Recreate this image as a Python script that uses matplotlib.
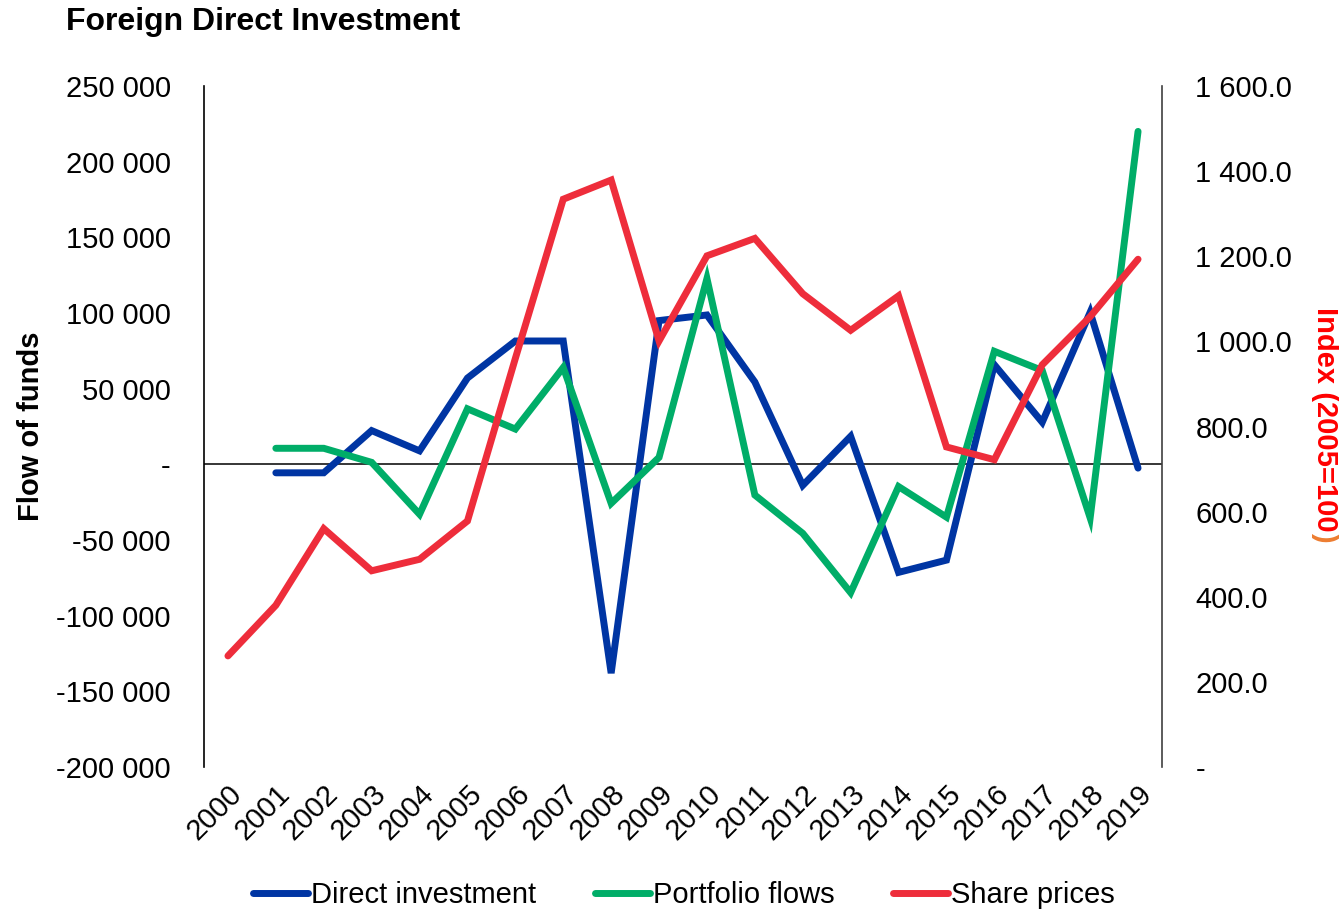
import numpy as np
import matplotlib
matplotlib.use("Agg")
import matplotlib.pyplot as plt
from matplotlib.ticker import FuncFormatter

plt.rcParams['font.family'] = ['Liberation Sans', 'DejaVu Sans']

# --- data ---
years = [str(y) for y in range(2000, 2020)]
direct_investment = [np.nan, -5600, -5600, 22300, 8900, 57000, 81500, 81500, -138000, 95000,
                     98700, 54400, -13900, 18500, -71400, -63300, 65800, 27800, 100500, -2500]
portfolio_flows = [np.nan, 10600, 10600, 1300, -33000, 36700, 23300, 64000, -25800, 4600,
                   122800, -20300, -45600, -84800, -14700, -34900, 74700, 62000, -35400, 220000]
share_prices = [261, 380, 560, 461, 488, 578, 960, 1334, 1379, 1001,
                1201, 1242, 1112, 1026, 1107, 752, 722, 945, 1058, 1193]

BLUE = '#0035a3'
GREEN = '#00ad68'
RED = '#ee2d3b'
FS = 21

W, H = 1339, 911
fig = plt.figure(figsize=(W / 100, H / 100), dpi=100)
ax = fig.add_axes([204 / W, 1 - 767 / H, (1162 - 204) / W, (767 - 86) / H])
ax2 = ax.twinx()

x = np.arange(len(years))
l1, = ax.plot(x, direct_investment, color=BLUE, lw=5, solid_capstyle='round',
              solid_joinstyle='miter', label='Direct investment')
l2, = ax.plot(x, portfolio_flows, color=GREEN, lw=5, solid_capstyle='round',
              solid_joinstyle='miter', label='Portfolio flows')
l3, = ax2.plot(x, share_prices, color=RED, lw=5, solid_capstyle='round',
               solid_joinstyle='miter', label='Share prices')
ax.axhline(0, color='black', lw=1.1, zorder=1)

ax.set_xlim(-0.5, len(years) - 0.5)
ax.set_ylim(-200000, 250000)
ax.set_yticks(np.arange(-200000, 250001, 50000))
ax2.set_ylim(0, 1600)
ax2.set_yticks(np.arange(0, 1601, 200))


def left_fmt(v, pos):
    if abs(v) < 1e-9:
        return '-'
    return f"{v:,.0f}".replace(',', ' ')


def right_fmt(v, pos):
    if abs(v) < 1e-9:
        return '-'
    return f"{v:,.1f}".replace(',', ' ')


ax.yaxis.set_major_formatter(FuncFormatter(left_fmt))
ax2.yaxis.set_major_formatter(FuncFormatter(right_fmt))

ax.set_xticks(x)
ax.set_xticklabels(years, rotation=45, ha='right', rotation_mode='anchor')
ax.tick_params(axis='x', length=0, pad=9, labelsize=FS)
ax.tick_params(axis='y', length=0, pad=24, labelsize=FS)
ax2.tick_params(axis='y', length=0, pad=24, labelsize=FS)

for a in (ax, ax2):
    a.spines['top'].set_visible(False)
    a.spines['bottom'].set_visible(False)
ax.spines['right'].set_visible(False)
ax2.spines['left'].set_visible(False)
ax.spines['left'].set_linewidth(1.2)
ax2.spines['right'].set_linewidth(1.2)
ax2.spines['right'].set_color('#404040')

fig.text(66 / W, 1 - 22 / H, 'Foreign Direct Investment', fontsize=23, fontweight='bold',
         ha='left', va='center')
fig.text(31 / W, 1 - 426 / H, 'Flow of funds', fontsize=FS, fontweight='bold',
         rotation=90, ha='center', va='center')

idx = fig.text(1325 / W, 1 - 307 / H, 'Index (2005=100', fontsize=FS, fontweight='bold',
               color='red', rotation=-90, ha='center', va='top')
fig.canvas.draw()
bb = idx.get_window_extent().transformed(fig.transFigure.inverted())
fig.text(1325 / W, bb.y0, ')', fontsize=FS, fontweight='bold', color='#ed7d31',
         rotation=-90, ha='center', va='top')

fig.legend(handles=[l1, l2, l3], loc='center', bbox_to_anchor=(684 / W, 1 - 895 / H),
           ncol=3, frameon=False, fontsize=FS, handlelength=1.9, handletextpad=0.1,
           columnspacing=2.0, borderpad=0)

fig.savefig('out.png', dpi=100)
